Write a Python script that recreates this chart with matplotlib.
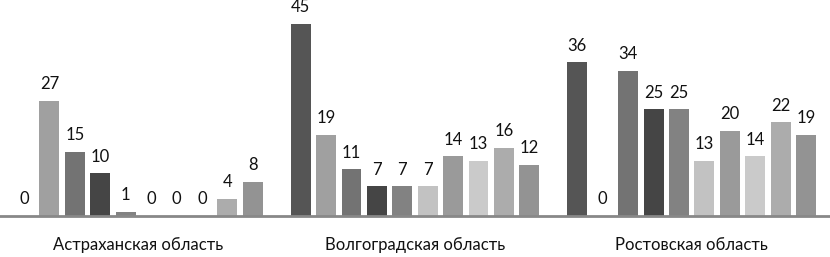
import matplotlib.pyplot as plt
import numpy as np

plt.rcParams['font.family'] = ['Lato', 'DejaVu Sans']

regions = ['Астраханская область', 'Волгоградская область', 'Ростовская область']
# ten series per region, read left to right
values = np.array([
    [0, 27, 15, 10, 1, 0, 0, 0, 4, 8],
    [45, 19, 11, 7, 7, 7, 14, 13, 16, 12],
    [36, 0, 34, 25, 25, 13, 20, 14, 22, 19],
])
colors = ['#555555', '#a0a0a0', '#737373', '#454545', '#828282',
          '#c2c2c2', '#9a9a9a', '#cacaca', '#acacac', '#939393']

fig = plt.figure(figsize=(8.30, 2.57), dpi=100)
ax = fig.add_axes([0, 1 - 216 / 257, 1, 216 / 257])

n = values.shape[1]
pitch = 0.0918
width = 0.072
x = np.arange(len(regions))
for i in range(n):
    pos = x + (i - (n - 1) / 2) * pitch
    bars = ax.bar(pos, values[:, i], width=width, color=colors[i])
    for b, v in zip(bars, values[:, i]):
        ax.text(b.get_x() + b.get_width() / 2, v + 2.0, str(v),
                ha='center', va='bottom', fontsize=12, color='#111111')

ax.set_xlim(-0.5, 2.5)
ax.set_ylim(0, 50.6)
ax.set_xticks(x)
ax.set_xticklabels(regions, fontsize=12, color='#111111')
ax.tick_params(axis='x', length=0, pad=15)
ax.set_yticks([])
for s in ['top', 'right', 'left']:
    ax.spines[s].set_visible(False)
ax.spines['bottom'].set_color('#888888')
ax.spines['bottom'].set_linewidth(2)

fig.savefig('out.png', dpi=100)
